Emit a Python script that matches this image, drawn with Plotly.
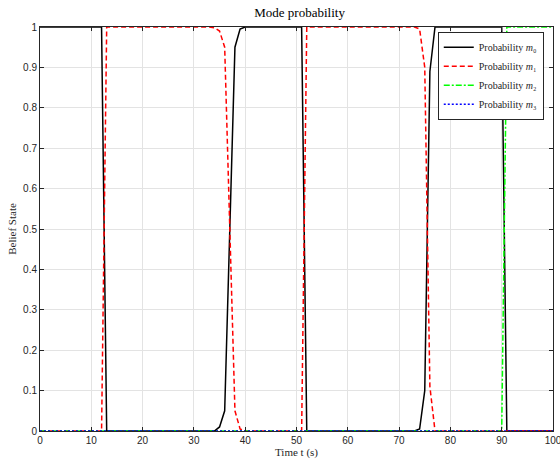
import plotly.graph_objects as go

# breakpoints of each belief curve (piecewise linear between samples)
t_m0 = [0, 12, 13, 34, 35, 36, 37, 38, 39, 40, 51, 52, 73, 74, 75, 76, 77, 90, 91, 100]
p_m0 = [1, 1, 0, 0, 0.01, 0.05, 0.5, 0.95, 0.995, 1, 1, 0, 0, 0.005, 0.1, 0.89, 1, 1, 0, 0]

t_m1 = [0, 12, 13, 33, 34, 35, 36, 37, 38, 39, 40, 51, 52, 73, 74, 75, 76, 77, 100]
p_m1 = [0, 0, 1, 1, 0.998, 0.99, 0.95, 0.5, 0.05, 0.005, 0, 0, 1, 1, 0.995, 0.9, 0.11, 0, 0]

t_m2 = [0, 90, 91, 100]
p_m2 = [0, 0, 1, 1]

t_m3 = [0, 100]
p_m3 = [0, 0]

serif = "Liberation Serif, Times New Roman, serif"
sans = "Liberation Sans, Arial, sans-serif"

fig = go.Figure()
fig.add_trace(go.Scatter(x=t_m0, y=p_m0, mode="lines", name="Probability <i>m</i>₀",
                         line=dict(color="#000000", width=1.5)))
fig.add_trace(go.Scatter(x=t_m1, y=p_m1, mode="lines", name="Probability <i>m</i>₁",
                         line=dict(color="#ff0000", width=1.5, dash="5px,3px")))
fig.add_trace(go.Scatter(x=t_m2, y=p_m2, mode="lines", name="Probability <i>m</i>₂",
                         line=dict(color="#00ff00", width=1.5, dash="6px,2px,2px,2px")))
fig.add_trace(go.Scatter(x=t_m3, y=p_m3, mode="lines", name="Probability <i>m</i>₃",
                         line=dict(color="#0000ff", width=1.5, dash="2px,2px")))

axis_common = dict(
    showline=True, linecolor="#262626", linewidth=1, mirror="ticks",
    ticks="inside", ticklen=4, tickcolor="#262626",
    showgrid=True, gridcolor="#e3e3e3", gridwidth=1, automargin=False,
    zeroline=False, tickfont=dict(family=sans, size=10, color="#262626"),
    ticklabeloverflow="allow",
)

fig.update_xaxes(range=[0, 100], dtick=10, title=dict(text="Time t (s)", standoff=0,
                 font=dict(family=serif, size=11, color="#262626")), **axis_common)
fig.update_yaxes(range=[0, 1], dtick=0.1, title=dict(text="Belief State", standoff=4,
                 font=dict(family=serif, size=11, color="#262626")), **axis_common)

fig.update_layout(
    width=560, height=461,
    margin=dict(l=40, r=7, t=27, b=30),
    plot_bgcolor="white", paper_bgcolor="white",
    title=dict(text="Mode probability", x=0.535, xanchor="center", y=0.972, yanchor="middle",
               font=dict(family=serif, size=13, color="#000000")),
    legend=dict(x=0.982, xanchor="right", y=0.988, yanchor="top",
                bgcolor="white", bordercolor="#262626", borderwidth=1,
                font=dict(family=serif, size=10, color="#262626"),
                tracegroupgap=0, itemwidth=30, traceorder="normal"),
    showlegend=True,
)

# drop the default body margin so the figure sits at the page corner
html = fig.to_html(include_plotlyjs=True, full_html=True,
                   config={"displayModeBar": False})
html = html.replace("<body>", '<body style="margin:0">', 1)
with open("out.html", "w", encoding="utf-8") as f:
    f.write(html)
